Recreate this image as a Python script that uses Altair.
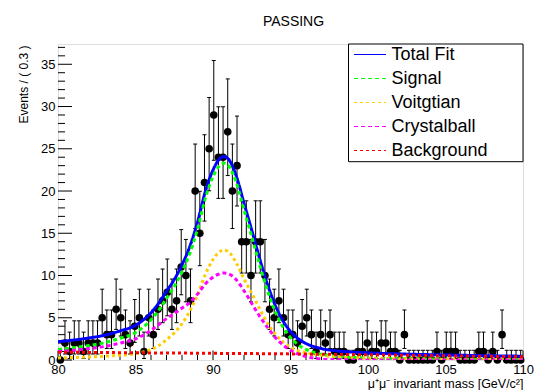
import altair as alt
import pandas as pd

# ---------------- data ----------------
bin_lo, bin_w, n_bins = 80.0, 0.3, 100
counts = [0, 2, 1, 2, 2, 1, 2, 2, 2, 5,
          3, 3, 6, 5, 3, 2, 4, 5, 1, 5,
          3, 6, 7, 8, 6, 7, 11, 10, 7, 20,
          15, 21, 25, 29, 24, 24, 27, 20, 23, 14,
          14, 10, 14, 14, 10, 6, 5, 7, 5, 3,
          3, 2, 4, 5, 3, 1, 3, 2, 3, 1,
          1, 1, 0, 0, 1, 1, 2, 1, 1, 2,
          2, 1, 1, 0, 3, 0, 0, 0, 0, 0,
          0, 1, 0, 1, 1, 1, 0, 0, 0, 0,
          1, 1, 0, 1, 0, 3, 0, 0, 0, 0]

# Poisson (68.3%) interval table used by the error bars
poisson_lo = {0: 0.0, 1: 0.173, 2: 0.708, 3: 1.367, 4: 2.086, 5: 2.840, 6: 3.620, 7: 4.419,
              8: 5.232, 10: 6.891, 11: 7.72, 14: 10.29, 15: 11.16, 20: 15.56, 21: 16.44,
              23: 18.23, 24: 19.13, 25: 20.03, 27: 21.83, 29: 23.64}
poisson_hi = {0: 1.148, 1: 3.300, 2: 4.638, 3: 5.918, 4: 7.163, 5: 8.382, 6: 9.584, 7: 10.77,
              8: 11.95, 10: 14.27, 11: 15.43, 14: 18.84, 15: 19.97, 20: 25.56, 21: 26.66,
              23: 28.87, 24: 29.97, 25: 31.07, 27: 33.27, 29: 35.45}

curve_mass = [80, 81, 82, 83, 84, 85, 86, 86.5, 87, 87.5, 88, 88.5, 89, 89.5, 90, 90.35, 90.7,
              91, 91.5, 92, 92.5, 93, 93.5, 94, 94.5, 95, 95.5, 96, 97, 98, 99, 100, 102, 104,
              106, 108, 110]
total_fit = [2.17, 2.36, 2.61, 2.93, 3.44, 4.1, 5.59, 6.74, 8.13, 9.52, 11.27, 13.41, 16.3, 19.9,
             22.49, 23.64, 24.08, 23.78, 21.77, 18.56, 15.36, 12.05, 9.04, 6.54, 4.68, 3.37,
             2.51, 1.95, 1.35, 1.07, 0.93, 0.84, 0.72, 0.63, 0.56, 0.50, 0.45]
signal = [1.25, 1.45, 1.71, 2.05, 2.57, 3.25, 4.75, 5.9, 7.3, 8.7, 10.45, 12.6, 15.5, 19.1, 21.7,
          22.85, 23.3, 23.0, 21.0, 17.8, 14.6, 11.3, 8.3, 5.8, 3.95, 2.65, 1.8, 1.25, 0.67, 0.41,
          0.29, 0.22, 0.15, 0.11, 0.09, 0.07, 0.06]
voigtian = [0.25, 0.3, 0.36, 0.45, 0.57, 0.75, 1.25, 1.7, 2.4, 3.2, 4.3, 5.8, 7.7, 10.1, 11.9,
            12.7, 13.0, 12.8, 11.5, 9.6, 7.9, 6.1, 4.4, 3.1, 2.15, 1.5, 1.1, 0.85, 0.55, 0.38,
            0.28, 0.22, 0.15, 0.11, 0.09, 0.07, 0.06]
crystalball = [1.0, 1.15, 1.35, 1.6, 2.0, 2.5, 3.5, 4.2, 4.9, 5.5, 6.15, 6.8, 7.8, 9.0, 9.8,
               10.15, 10.3, 10.2, 9.5, 8.2, 6.7, 5.2, 3.9, 2.7, 1.8, 1.15, 0.7, 0.4, 0.12, 0.03,
               0.01, 0.0, 0.0, 0.0, 0.0, 0.0, 0.0]
background = [0.92, 0.91, 0.9, 0.88, 0.87, 0.85, 0.84, 0.835, 0.83, 0.82, 0.82, 0.81, 0.8, 0.8,
              0.79, 0.785, 0.78, 0.78, 0.77, 0.76, 0.76, 0.75, 0.74, 0.74, 0.73, 0.72, 0.71, 0.7,
              0.68, 0.66, 0.64, 0.62, 0.57, 0.52, 0.47, 0.43, 0.39]

series_names = ["Total Fit", "Signal", "Voitgtian", "Crystalball", "Background"]
series_values = [total_fit, signal, voigtian, crystalball, background]
series_colors = ["#0000ff", "#00ff00", "#ffcc00", "#ff00ff", "#ff0000"]
series_dash = [[1, 0], [4, 3], [3, 3], [4, 3], [3, 3]]

x_major = [80, 85, 90, 95, 100, 105, 110]
x_minor = [m for m in range(81, 110) if m % 5 != 0]
y_major = [0, 5, 10, 15, 20, 25, 30, 35]
y_minor = [m for m in range(1, 38) if m % 5 != 0]

# ---------------- tables ----------------
centers = [round(bin_lo + bin_w * (i + 0.5), 3) for i in range(n_bins)]
bins = pd.DataFrame({
    "mass": centers,
    "n": counts,
    "lo": [poisson_lo[c] for c in counts],
    "hi": [poisson_hi[c] for c in counts],
})
curves = pd.DataFrame([
    {"mass": m, "value": v, "series": name, "k": k}
    for k, (name, vals) in enumerate(zip(series_names, series_values))
    for m, v in zip(curve_mass, vals)
])
legend_rows = pd.DataFrame({"series": series_names, "row": list(range(len(series_names)))})

# ---------------- layout ----------------
W, H = 465, 316
FONT = "Liberation Sans"
X_MAX, Y_MAX = 110, 37.4

xscale = alt.Scale(domain=[80, X_MAX], nice=False, zero=False)
yscale = alt.Scale(domain=[0, Y_MAX], nice=False, zero=False)
color_scale = alt.Scale(domain=series_names, range=series_colors)
dash_scale = alt.Scale(domain=series_names, range=series_dash)
# legend rows: first row 10.5 px below the frame top, 24 px apart
ROW0, ROWSTEP = 10.5, 24.0
row_scale = alt.Scale(domain=[-ROW0 / ROWSTEP, (H - ROW0) / ROWSTEP], reverse=True,
                      nice=False, zero=False)

xaxis = alt.Axis(values=x_major, ticks=False, tickSize=0, grid=False, domain=False,
                 labelFont=FONT, labelFontSize=13, labelColor="black", labelPadding=3,
                 labelFlush=False, labelOverlap=False,
                 title="μ⁺μ⁻ invariant mass [GeV/c²]", titleFont=FONT, titleFontSize=12.5,
                 titleFontWeight="normal", titleColor="black", titleAlign="right",
                 titleBaseline="alphabetic", titleX=W, titleY=27)
yaxis = alt.Axis(values=y_major, ticks=False, tickSize=0, grid=False, domain=False,
                 labelFont=FONT, labelFontSize=13, labelColor="black", labelPadding=3,
                 labelFlush=False, labelOverlap=False,
                 title="Events / ( 0.3 )", titleFont=FONT, titleFontSize=12,
                 titleFontWeight="normal", titleColor="black", titleAngle=270,
                 titleAlign="right", titleBaseline="middle", titleX=-35, titleY=1)


def X(field):
    return alt.X(field, type="quantitative", scale=xscale, axis=xaxis)


def Y(field):
    return alt.Y(field, type="quantitative", scale=yscale, axis=yaxis)


curve_layer = alt.Chart(curves).mark_line(strokeWidth=3, interpolate="monotone", clip=True).encode(
    x=X("mass"),
    y=Y("value"),
    color=alt.Color("series:N", scale=color_scale, legend=None),
    strokeDash=alt.StrokeDash("series:N", scale=dash_scale, legend=None),
    order=alt.Order("k:Q"),
)

err = alt.Chart(bins).mark_rule(color="black", strokeWidth=1).encode(
    x=X("mass"), y=Y("lo"), y2="hi")
cap_hi = alt.Chart(bins).mark_tick(orient="horizontal", size=4, thickness=1, color="black",
                                   opacity=1).encode(x=X("mass"), y=Y("hi"))
cap_lo = alt.Chart(bins).mark_tick(orient="horizontal", size=4, thickness=1, color="black",
                                   opacity=1).encode(x=X("mass"), y=Y("lo"))
pts = alt.Chart(bins).mark_circle(size=58, color="black", opacity=1).encode(
    x=X("mass"), y=Y("n"))

ytick_major = alt.Chart(pd.DataFrame({"t": y_major})).mark_rule(color="black").encode(
    y=Y("t"), x=alt.value(0), x2=alt.value(14))
ytick_minor = alt.Chart(pd.DataFrame({"t": y_minor})).mark_rule(color="black").encode(
    y=Y("t"), x=alt.value(0), x2=alt.value(7))
xtick_major = alt.Chart(pd.DataFrame({"t": x_major})).mark_rule(color="black").encode(
    x=X("t"), y=alt.value(H), y2=alt.value(H - 9.5))
xtick_minor = alt.Chart(pd.DataFrame({"t": x_minor})).mark_rule(color="black").encode(
    x=X("t"), y=alt.value(H), y2=alt.value(H - 5))

main = alt.layer(ytick_major, ytick_minor, xtick_major, xtick_minor,
                 err, cap_hi, cap_lo, pts, curve_layer)

# ---------------- legend box ----------------
legend_box = alt.Chart(pd.DataFrame({"a": [0]})).mark_rect(
    fill="white", stroke="black", strokeWidth=1
).encode(x=alt.value(290.5), x2=alt.value(W), y=alt.value(0), y2=alt.value(117.7))
legend_lines = alt.Chart(legend_rows).mark_rule(strokeWidth=1).encode(
    y=alt.Y("row:Q", scale=row_scale, axis=None),
    x=alt.value(296), x2=alt.value(328),
    color=alt.Color("series:N", scale=color_scale, legend=None),
    strokeDash=alt.StrokeDash("series:N", scale=dash_scale, legend=None),
)
legend_text = alt.Chart(legend_rows).mark_text(
    align="left", baseline="middle", font=FONT, fontSize=18, color="black"
).encode(
    y=alt.Y("row:Q", scale=row_scale, axis=None),
    x=alt.value(333.5),
    text="series:N",
)
legend_layer = alt.layer(legend_box, legend_lines, legend_text)

chart = alt.layer(main, legend_layer).resolve_scale(y="independent").properties(
    width=W, height=H,
    title=alt.Title("PASSING", font=FONT, fontSize=14, fontWeight="normal", color="black",
                    anchor="middle", frame="group", offset=4, baseline="alphabetic", dx=3),
    autosize=alt.AutoSizeParams(type="none"),
    padding={"left": 58, "top": 44, "right": 16, "bottom": 30},
).configure_view(
    stroke="black", strokeWidth=1
).configure(
    background="white"
)

chart.save("out.html", embed_options={"renderer": "svg", "actions": False})
